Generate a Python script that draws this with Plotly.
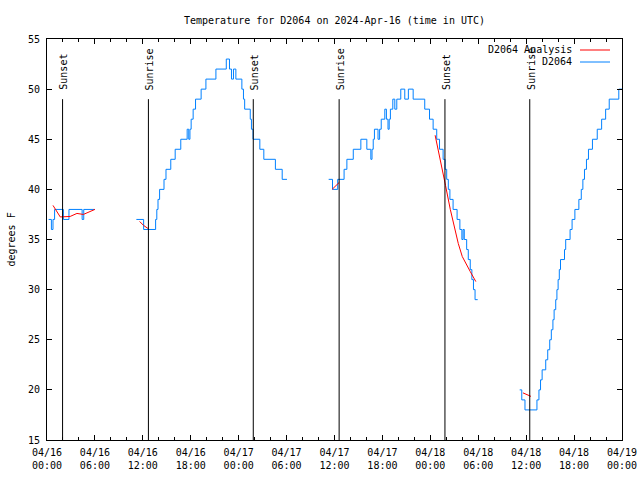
import pandas as pd
import plotly.graph_objects as go

START = pd.Timestamp("2024-04-16 00:00")

# Observed temperature (D2064): step change points, hours since START, None = gap
obs_hours = [0.2, 0.55, 0.75, 0.95, 2.05, 2.75, 4.4, 4.6, 6.0, None,
             11.19, 12.1, 13.6, 13.75, 13.9, 14.1, 14.65, 14.9, 15.5, 16.05, 16.75, 17.55,
             17.75, 17.9, 18.05, 18.3, 18.6, 19.3, 19.9, 21.15, 22.45, 22.85, 23.1, 23.35,
             23.65, 24.4, 24.6, 24.75, 25.45, 25.6, 25.8, 26.65, 27.15, 28.6, 29.45, 30.05, None,
             35.27, 35.75, 36.4, 37.2, 37.55, 38.35, 39.3, 40.05, 40.55, 40.7, 40.85, 41.0,
             41.45, 41.65, 41.85, 42.3, 42.5, 42.7, 42.85, 43.0, 43.3, 43.55, 43.8, 44.3,
             44.8, 45.25, 45.85, 47.3, 47.9, 48.35, 48.8, 49.15, 49.6, 49.85, 50.05, 50.25,
             50.45, 50.85, 51.35, 51.7, 51.95, 52.1, 52.25, 52.55, 52.75, 53.0, 53.2, 53.4,
             53.6, 53.93, None,
             59.19, 59.45, 59.85, 61.35, 61.6, 61.8, 62.0, 62.45, 62.7, 62.95, 63.15, 63.35,
             63.5, 63.7, 63.85, 64.0, 64.15, 64.3, 64.8, 64.95, 65.5, 65.75, 66.1, 66.6,
             66.9, 67.1, 67.3, 67.55, 67.8, 68.3, 68.9, 69.45, 69.95, 70.4, 71.6, 72.0]
obs_temps = [37, 36, 37, 38, 37, 38, 37, 38, 38, None,
             37, 36, 37, 38, 39, 40, 41, 42, 43, 44, 45, 46,
             45, 46, 47, 48, 49, 50, 51, 52, 53, 52, 51, 52,
             51, 50, 49, 48, 47, 46, 45, 44, 43, 42, 41, 41, None,
             41, 40, 41, 42, 43, 44, 45, 44, 43, 44, 45, 46,
             45, 46, 47, 48, 47, 46, 47, 48, 49, 48, 49, 50,
             49, 50, 49, 48, 47, 46, 45, 44, 43, 42, 41, 40,
             39, 38, 37, 36, 35, 36, 35, 34, 33, 32, 31, 30,
             29, 29, None,
             20, 19, 18, 19, 20, 21, 22, 23, 24, 25, 26, 27,
             28, 29, 30, 31, 32, 33, 34, 35, 36, 37, 38, 39,
             40, 41, 42, 43, 44, 45, 46, 47, 48, 49, 50, 50]

# Analysis temperature (D2064 Analysis)
ana_hours = [0.75, 1.25, 1.66, 2.9, 3.75, 4.55, 6.0, None,
             11.6, 12.1, 12.65, None,
             35.7, 36.6, None,
             48.6, 49.25, 49.9, 50.5, 51.1, 51.5, 52.0, 52.5, 53.0, 53.7, None,
             59.6, 60.6]
ana_temps = [38.4, 37.75, 37.25, 37.3, 37.6, 37.5, 38.0, None,
             36.8, 36.4, 36.1, None,
             40.0, 40.7, None,
             45.4, 43.0, 40.4, 38.0, 35.8, 34.6, 33.3, 32.5, 31.8, 30.8, None,
             19.7, 19.35]

# Sun events
sun_hours = [1.95, 12.70, 25.83, 36.58, 49.83, 60.45]
sun_labels = ["Sunset", "Sunrise", "Sunset", "Sunrise", "Sunset", "Sunrise"]

FONT = "DejaVu Sans Mono"
BLUE = "#0080ff"
RED = "#ff0000"

W, H = 640, 480
L, R, T, B = 47, 18, 39, 40
pw = W - L - R
ph = H - T - B


def to_time(hours):
    return [None if h is None else START + pd.Timedelta(hours=h) for h in hours]


def px_x(px):
    return (px - L) / pw


def px_y(py):
    return (H - B - py) / ph


fig = go.Figure()
fig.add_trace(go.Scatter(x=to_time(obs_hours), y=obs_temps, mode="lines",
                         line=dict(color=BLUE, width=1, shape="hv"),
                         name="D2064", connectgaps=False, showlegend=False))
fig.add_trace(go.Scatter(x=to_time(ana_hours), y=ana_temps, mode="lines",
                         line=dict(color=RED, width=1),
                         name="D2064 Analysis", connectgaps=False, showlegend=False))

for h, lab in zip(sun_hours, sun_labels):
    t = START + pd.Timedelta(hours=h)
    fig.add_shape(type="line", x0=t, x1=t, y0=15, y1=49, xref="x", yref="y",
                  line=dict(color="black", width=1))
    fig.add_annotation(x=t, y=49.7, xref="x", yref="y", text=lab, textangle=-90,
                       showarrow=False, xanchor="center", yanchor="bottom",
                       font=dict(family=FONT, size=10, color="black"), xshift=1)

# gnuplot-style legend: text right-aligned, sample line to its right
for text, col, ypx in [("D2064 Analysis", RED, 50), ("D2064", BLUE, 62)]:
    fig.add_annotation(x=px_x(574), y=px_y(ypx), xref="paper", yref="paper", text=text,
                       showarrow=False, xanchor="right", yanchor="middle",
                       font=dict(family=FONT, size=10, color="black"))
    fig.add_shape(type="line", x0=px_x(580), x1=px_x(610), y0=px_y(ypx), y1=px_y(ypx),
                  xref="paper", yref="paper", line=dict(color=col, width=1))

# y-axis title
fig.add_annotation(x=px_x(11), y=0.5, xref="paper", yref="paper", text="degrees F",
                   textangle=-90, showarrow=False, xanchor="center", yanchor="middle",
                   font=dict(family=FONT, size=10, color="black"))

fig.update_layout(
    width=W, height=H,
    margin=dict(l=L, r=R, t=T, b=B, pad=0, autoexpand=False),
    paper_bgcolor="white", plot_bgcolor="white",
    font=dict(family=FONT, size=10, color="black"),
    title=dict(text="Temperature for D2064 on 2024-Apr-16 (time in UTC)",
               x=0.5, xanchor="center", xref="paper", y=1 - 20 / H, yanchor="middle",
               yref="container", font=dict(family=FONT, size=10, color="black")),
    showlegend=False,
)
fig.update_xaxes(
    type="date", automargin=False,
    range=[START, START + pd.Timedelta(hours=72)],
    tick0=START, dtick=6 * 3600 * 1000, tickformat="%m/%d<br>%H:%M",
    ticks="inside", ticklen=5, tickcolor="black", tickwidth=1,
    minor=dict(dtick=2 * 3600 * 1000, ticks="inside", ticklen=3, tickcolor="black", tickwidth=1),
    showline=True, linecolor="black", linewidth=1, mirror="allticks",
    showgrid=False, zeroline=False, ticklabeloverflow="allow",
    ticklabelstandoff=3,
    tickfont=dict(family=FONT, size=10, color="black"),
)
fig.update_yaxes(
    automargin=False,
    range=[15, 55], dtick=5, tick0=15,
    ticks="inside", ticklen=5, tickcolor="black", tickwidth=1,
    showline=True, linecolor="black", linewidth=1, mirror="allticks",
    showgrid=False, zeroline=False,
    ticklabelstandoff=4,
    tickfont=dict(family=FONT, size=10, color="black"),
)

fig.write_html("out.html", config={"displayModeBar": False},
               post_script="document.body.style.margin='0px';document.body.style.overflow='hidden';")
